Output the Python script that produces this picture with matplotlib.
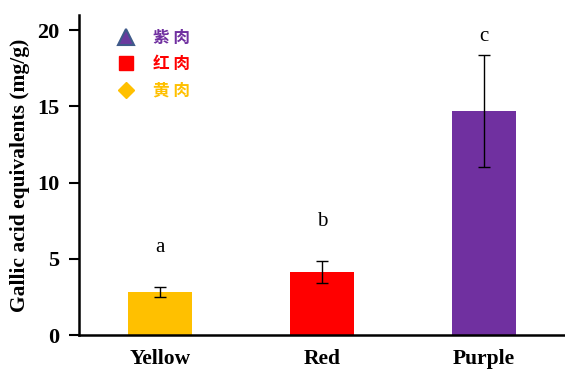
import matplotlib.pyplot as plt
from matplotlib.lines import Line2D

categories = ["Yellow", "Red", "Purple"]
means = [2.82, 4.13, 14.69]
errors = [0.30, 0.72, 3.67]
letters = ["a", "b", "c"]
bar_colors = ["#FFC000", "#FF0000", "#7030A0"]
legend_labels = ["紫 肉", "红 肉", "黄 肉"]

serif = "Liberation Serif"

fig = plt.figure(figsize=(5.65, 3.71), dpi=100)
ax = fig.add_axes([0.140, 0.097, 0.86, 0.863])

x = list(range(len(categories)))
ax.bar(x, means, width=0.4, color=bar_colors)
ax.errorbar(x, means, yerr=errors, fmt="none", ecolor="black",
            elinewidth=1, capsize=4, capthick=1)

# significance letters sit above the error bars, kept under the top tick
for xi, m, e, lab in zip(x, means, errors, letters):
    ax.text(xi, min(m + e + 2.6, 19.6), lab, ha="center", va="center",
            fontsize=15, family=serif)

ax.set_xlim(-0.5, 2.5)
ax.set_ylim(0, 21)
ax.set_yticks([0, 5, 10, 15, 20])
ax.set_xticks(x)
ax.set_xticklabels(categories, fontsize=15.5, fontweight="bold", family=serif)
for t in ax.get_yticklabels():
    t.set_fontsize(16)
    t.set_fontweight("bold")
    t.set_family(serif)
ax.tick_params(axis="x", length=0, pad=10)
ax.tick_params(axis="y", direction="out", length=7, width=1.5, pad=7)
ax.set_ylabel("Gallic acid equivalents (mg/g)", fontsize=15.5,
              fontweight="bold", family=serif, labelpad=5)

for side in ["top", "right"]:
    ax.spines[side].set_visible(False)
ax.spines["left"].set_linewidth(1.8)
ax.spines["bottom"].set_linewidth(1.8)

handles = [
    Line2D([], [], ls="none", marker="^", ms=11, mfc="#6A3A9E", mec="#3F5A8A", mew=1.5),
    Line2D([], [], ls="none", marker="s", ms=10, mfc="#FF0000", mec="#FF0000"),
    Line2D([], [], ls="none", marker="D", ms=8, mfc="#FFC000", mec="#FFC000"),
]
leg = ax.legend(handles, legend_labels, loc="upper left",
                bbox_to_anchor=(0.045, 1.004), frameon=False,
                prop={"family": "Noto Sans CJK SC", "size": 12, "weight": "bold"},
                handletextpad=1.0, labelspacing=0.52, handlelength=1.2)
for txt, c in zip(leg.get_texts(), ["#7030A0", "#FF0000", "#FFC000"]):
    txt.set_color(c)

fig.savefig("out.png", dpi=100)
